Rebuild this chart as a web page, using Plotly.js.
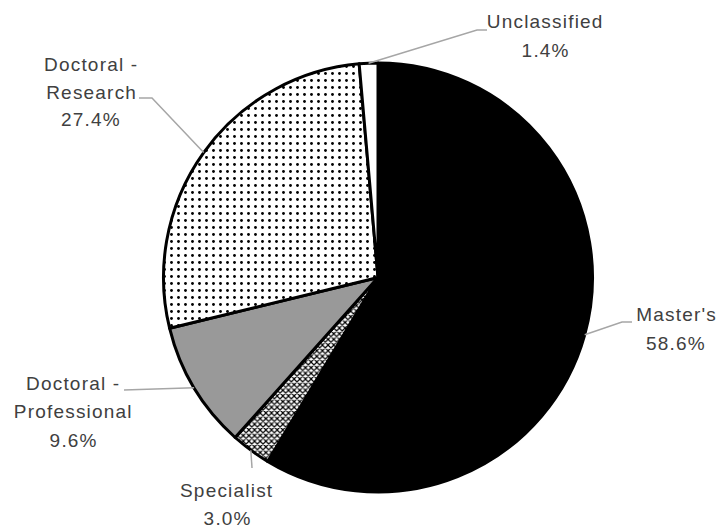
<!DOCTYPE html>
<html>
<head>
<meta charset="utf-8">
<script src="https://cdn.plot.ly/plotly-3.0.1.min.js"></script>
<style>
  html, body { margin: 0; padding: 0; background: #fff; }
  #chart { width: 721px; height: 529px; }
  .annotation text { letter-spacing: 1.2px; }
</style>
</head>
<body>
<div id="chart"></div>
<script>
// ---- data ----
const categories = ["Master's", "Specialist", "Doctoral - Professional", "Doctoral - Research", "Unclassified"];
const shares = [58.6, 3.0, 9.6, 27.4, 1.4];

// ---- styles / layout (not data) ----
const sliceColors = ["#000000", "#ffffff", "#999999", "#ffffff", "#ffffff"];
const patternShapes = ["", "x", "", ".", ""];
const patternSizes = [8, 4, 8, 7, 8];
const patternSolidity = [0.3, 0.5, 0.3, 0.13, 0.3];

const W = 721, H = 529;
const CX = 378, CY = 277.5, R = 214.5;   // pie centre & radius in px

// label placement (px): text centre x, line centres y, leader-line points after the slice edge
const labelLayout = [
  { x: 676, y: [314.5, 343], pts: [[622, 322], [632, 322]] },
  { x: 227, y: [490, 518.5], pts: [[252, 468]] },
  { x: 73,  y: [383, 411.5, 440], pts: [[124, 390]] },
  { x: 91,  y: [64, 92, 120], pts: [[152, 98], [139, 98]] },
  { x: 545, y: [21.5, 50], pts: [[477, 30], [487, 30]] }
];

const px = x => x / W;
const py = y => 1 - y / H;

const total = shares.reduce((a, b) => a + b, 0);
let cum = 0;
const annotations = [];
const shapes = [];
shares.forEach((v, i) => {
  const theta = 2 * Math.PI * (cum + v / 2) / total;
  cum += v;
  const ex = CX + R * Math.sin(theta);
  const ey = CY - R * Math.cos(theta);
  const L = labelLayout[i];
  let path = `M ${px(ex)} ${py(ey)}`;
  L.pts.forEach(p => { path += ` L ${px(p[0])} ${py(p[1])}`; });
  shapes.push({
    type: 'path', xref: 'paper', yref: 'paper', path: path,
    line: { color: '#a6a6a6', width: 1.5 }, layer: 'above'
  });
  const lines = categories[i].split(' - ');
  const textLines = lines.length > 1 ? [lines[0] + ' -', lines[1]] : [lines[0]];
  textLines.push(v.toFixed(1) + '%');
  textLines.forEach((t, k) => {
    annotations.push({
      xref: 'paper', yref: 'paper', x: px(L.x), y: py(L.y[k]),
      xanchor: 'center', yanchor: 'middle', showarrow: false, text: t,
      font: { family: 'Liberation Sans, Arial, sans-serif', size: 19, color: '#404040' }
    });
  });
});

const trace = {
  type: 'pie',
  labels: categories,
  values: shares,
  sort: false,
  direction: 'clockwise',
  rotation: 0,
  textinfo: 'none',
  hoverinfo: 'skip',
  showlegend: false,
  domain: { x: [(CX - R) / W, (CX + R) / W], y: [1 - (CY + R) / H, 1 - (CY - R) / H] },
  marker: {
    colors: sliceColors,
    line: { color: '#000000', width: 3 },
    pattern: {
      shape: patternShapes,
      size: patternSizes,
      solidity: patternSolidity,
      fgcolor: '#000000',
      fillmode: 'replace'
    }
  }
};

const layout = {
  width: W, height: H,
  margin: { l: 0, r: 0, t: 0, b: 0 },
  paper_bgcolor: '#ffffff',
  plot_bgcolor: '#ffffff',
  showlegend: false,
  annotations: annotations,
  shapes: shapes
};

Plotly.newPlot('chart', [trace], layout, { displayModeBar: false, staticPlot: true });
</script>
</body>
</html>
